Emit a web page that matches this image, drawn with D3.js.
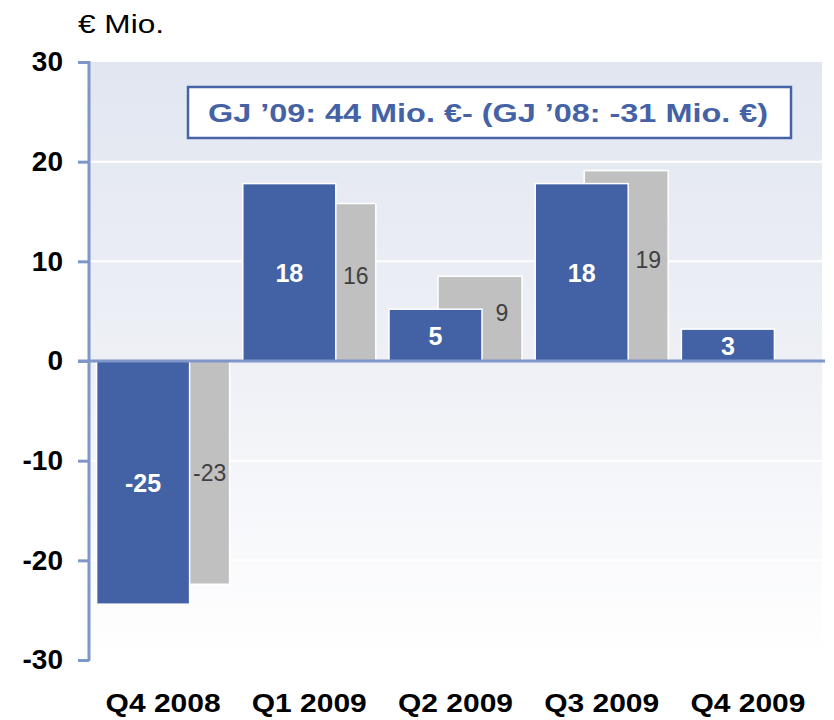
<!DOCTYPE html>
<html>
<head>
<meta charset="utf-8">
<script src="https://cdn.jsdelivr.net/npm/d3@7"></script>
<style>
  body { margin: 0; background: #fff; }
  svg { display: block; font-family: "Liberation Sans", Arial, sans-serif; }
</style>
</head>
<body>
<svg id="chart" width="834" height="720"></svg>
<script>
// quarters on the x axis
var categories = ["Q4 2008", "Q1 2009", "Q2 2009", "Q3 2009", "Q4 2009"];

// EBIT per quarter, current year (blue) and previous year (grey), € Mio.
var current = [-24.4, 17.8, 5.2, 17.8, 3.2];
var previous = [-22.4, 15.8, 8.5, 19.1, null];

// printed labels on the bars
var currentLabels = ["-25", "18", "5", "18", "3"];
var previousLabels = ["-23", "16", "9", "19", ""];

var yTicks = [-30, -20, -10, 0, 10, 20, 30];
var unitLabel = "\u20AC Mio.";
var note = "GJ \u201909: 44 Mio. \u20AC- (GJ \u201908: -31 Mio. \u20AC)";

var svg = d3.select("#chart");

var plot = { left: 89, right: 822, top: 62, bottom: 660 };

var x = d3.scaleBand()
    .domain(categories)
    .range([90, 821]);

var y = d3.scaleLinear()
    .domain([-30, 30])
    .range([plot.bottom, plot.top]);

var axisColor = "#7f96c8";

//------------------------------------------------------------------------------
// background gradient
//------------------------------------------------------------------------------
var grad = svg.append("defs").append("linearGradient")
    .attr("id", "bg")
    .attr("x1", 0).attr("y1", 0)
    .attr("x2", 0).attr("y2", 1);
grad.append("stop").attr("offset", "0%").attr("stop-color", "#e1e6f0");
grad.append("stop").attr("offset", "50%").attr("stop-color", "#eef0f6");
grad.append("stop").attr("offset", "100%").attr("stop-color", "#ffffff");

svg.append("rect")
    .attr("x", plot.left)
    .attr("y", plot.top)
    .attr("width", plot.right - plot.left)
    .attr("height", plot.bottom - plot.top)
    .attr("fill", "url(#bg)");

// white gridlines
svg.append("g")
    .selectAll("line")
    .data(yTicks.filter(function(t) { return t !== 0 && Math.abs(t) !== 30; }))
    .enter().append("line")
    .attr("x1", plot.left)
    .attr("x2", plot.right)
    .attr("y1", function(d) { return y(d); })
    .attr("y2", function(d) { return y(d); })
    .attr("stroke", "#ffffff")
    .attr("stroke-width", 2);

//------------------------------------------------------------------------------
// bars: grey behind, blue in front
//------------------------------------------------------------------------------
var groupW = 133,
    blueW = 93,
    greyOff = 49,
    greyW = 84;

function groupX(d) {
    return x(d) + x.bandwidth() / 2 - groupW / 2;
}

var rows = categories.map(function(c, i) {
    return { cat: c, cur: current[i], prev: previous[i],
             curLabel: currentLabels[i], prevLabel: previousLabels[i] };
});
var prevRows = rows.filter(function(d) { return d.prev !== null; });

var bars = svg.append("g");

bars.selectAll("rect.prev")
    .data(prevRows)
    .enter().append("rect")
    .attr("class", "prev")
    .attr("x", function(d) { return groupX(d.cat) + greyOff; })
    .attr("y", function(d) { return y(Math.max(0, d.prev)); })
    .attr("width", greyW)
    .attr("height", function(d) { return Math.abs(y(d.prev) - y(0)); })
    .attr("fill", "#c0c0c0")
    .attr("stroke", "#ffffff")
    .attr("stroke-width", 1.5);

bars.selectAll("rect.cur")
    .data(rows)
    .enter().append("rect")
    .attr("class", "cur")
    .attr("x", function(d) { return groupX(d.cat); })
    .attr("y", function(d) { return y(Math.max(0, d.cur)); })
    .attr("width", blueW)
    .attr("height", function(d) { return Math.abs(y(d.cur) - y(0)); })
    .attr("fill", "#4262a5")
    .attr("stroke", "#ffffff")
    .attr("stroke-width", 1.5);

// labels
bars.selectAll("text.prev")
    .data(prevRows)
    .enter().append("text")
    .attr("class", "prev")
    .attr("x", function(d) { return groupX(d.cat) + blueW + (groupW - blueW) / 2; })
    .attr("y", function(d) { return (y(d.prev) + y(0)) / 2 - (d.prev > 0 ? 6 : 0); })
    .attr("dy", "0.35em")
    .attr("text-anchor", "middle")
    .attr("fill", "#404040")
    .style("font-size", "23px")
    .text(function(d) { return d.prevLabel; });

bars.selectAll("text.cur")
    .data(rows)
    .enter().append("text")
    .attr("class", "cur")
    .attr("x", function(d) { return groupX(d.cat) + blueW / 2; })
    .attr("y", function(d) { return (y(d.cur) + y(0)) / 2 + 1; })
    .attr("dy", "0.35em")
    .attr("text-anchor", "middle")
    .attr("fill", "#ffffff")
    .style("font-size", "25px")
    .style("font-weight", "bold")
    .text(function(d) { return d.curLabel; });

//------------------------------------------------------------------------------
// axes
//------------------------------------------------------------------------------
var yAxis = svg.append("g")
    .attr("transform", "translate(" + plot.left + ",0)")
    .call(d3.axisLeft(y).tickValues(yTicks).tickSize(11).tickPadding(15)
        .tickFormat(d3.format("d")));

yAxis.select(".domain")
    .attr("d", "M0," + (plot.top - 1) + "V" + (plot.bottom + 1))
    .attr("stroke", axisColor)
    .attr("stroke-width", 3);
yAxis.selectAll(".tick line")
    .attr("stroke", axisColor)
    .attr("stroke-width", 3);
yAxis.selectAll(".tick text")
    .attr("fill", "#000")
    .style("font-size", "28px")
    .style("font-weight", "bold")
    .text(function(d) { return d < 0 ? "-" + Math.abs(d) : d; });

// zero line
svg.append("line")
    .attr("x1", plot.left - 11)
    .attr("x2", 825)
    .attr("y1", y(0))
    .attr("y2", y(0))
    .attr("stroke", axisColor)
    .attr("stroke-width", 3);

var xAxis = svg.append("g")
    .attr("transform", "translate(0,712)")
    .call(d3.axisBottom(x).tickSize(0).tickPadding(0));
xAxis.select(".domain").remove();
xAxis.selectAll(".tick text")
    .attr("y", 0)
    .attr("dy", 0)
    .attr("fill", "#000")
    .attr("textLength", 115)
    .attr("lengthAdjust", "spacingAndGlyphs")
    .style("font-size", "26.5px")
    .style("font-weight", "bold");

//------------------------------------------------------------------------------
// unit label and note box
//------------------------------------------------------------------------------
svg.append("text")
    .attr("x", 78)
    .attr("y", 33)
    .attr("fill", "#000")
    .attr("textLength", 86)
    .attr("lengthAdjust", "spacingAndGlyphs")
    .style("font-size", "26px")
    .text(unitLabel);

svg.append("rect")
    .attr("x", 188)
    .attr("y", 87)
    .attr("width", 603)
    .attr("height", 51)
    .attr("fill", "#ffffff")
    .attr("stroke", "#4563a6")
    .attr("stroke-width", 2.5);

svg.append("text")
    .attr("x", 208)
    .attr("y", 122)
    .attr("fill", "#4462a5")
    .attr("textLength", 560)
    .attr("lengthAdjust", "spacingAndGlyphs")
    .style("font-size", "26.5px")
    .style("font-weight", "bold")
    .text(note);
</script>
</body>
</html>
